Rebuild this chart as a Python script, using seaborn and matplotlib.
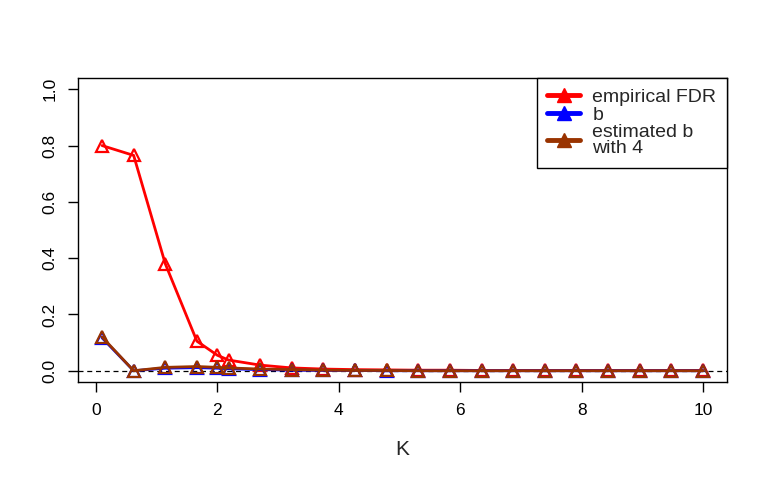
import numpy as np
import matplotlib
matplotlib.use("Agg")
import matplotlib.pyplot as plt
import seaborn as sns
from matplotlib.lines import Line2D

# valores
K = [0.1, 0.621, 1.142, 1.663, 2.0, 2.184, 2.705, 3.226, 3.747, 4.268, 4.789,
     5.311, 5.832, 6.353, 6.874, 7.395, 7.916, 8.437, 8.958, 9.479, 10.0]
fdr_emp = [0.80, 0.765, 0.38, 0.105, 0.055, 0.038, 0.02, 0.01, 0.006, 0.004, 0.003,
           0.002, 0.002, 0.001, 0.001, 0.001, 0.001, 0.001, 0.001, 0.001, 0.001]
b_true = [0.117, 0.0, 0.009, 0.011, 0.009, 0.007, 0.004, 0.002, 0.001, 0.001, 0.0,
          0.0, 0.0, 0.0, 0.0, 0.0, 0.0, 0.0, 0.0, 0.0, 0.0]
b_est = [0.12, 0.0, 0.012, 0.015, 0.012, 0.01, 0.006, 0.004, 0.002, 0.001, 0.001,
         0.0, 0.0, 0.0, 0.0, 0.0, 0.0, 0.0, 0.0, 0.0, 0.0]
legenda = ["empirical FDR", "b", "estimated b\nwith 4"]
cores = ["#ff0000", "#0000ff", "#993300"]

sns.set_style("white")
plt.rcParams["font.family"] = ["Liberation Sans", "DejaVu Sans"]

fig = plt.figure(figsize=(7.68, 4.8), dpi=100)
ax = fig.add_axes([78 / 768, 1 - 382 / 480, (727 - 78) / 768, (382 - 78) / 480])

for serie, cor in zip([fdr_emp, b_true, b_est], cores):
    sns.lineplot(x=K, y=serie, ax=ax, color=cor, lw=2, marker="^", markersize=9,
                 markerfacecolor="none", markeredgecolor=cor, markeredgewidth=1.6)

ax.axhline(0, color="black", lw=0.9, ls=(0, (4, 3)), zorder=0)

ax.set_xlim(-0.296, 10.396)
ax.set_ylim(-0.04, 1.04)
ax.set_xticks([0, 2, 4, 6, 8, 10])
ax.set_yticks([0.0, 0.2, 0.4, 0.6, 0.8, 1.0])
ax.set_yticklabels(["0.0", "0.2", "0.4", "0.6", "0.8", "1.0"], rotation=90, va="center")
ax.tick_params(axis="both", direction="out", length=7, width=1, labelsize=12.5,
               colors="black", bottom=True, left=True)
ax.tick_params(axis="x", pad=8)
ax.tick_params(axis="y", pad=8)
for s in ax.spines.values():
    s.set_color("black")
    s.set_linewidth(1)
ax.set_xlabel("K", fontsize=15, labelpad=16)
ax.set_ylabel("")

handles = [Line2D([0], [0], color=c, lw=3.5, marker="^", markersize=10,
                  markerfacecolor=c, markeredgecolor=c) for c in cores]
leg = ax.legend(handles, legenda, loc="upper right", borderaxespad=0, frameon=True,
                fancybox=False, edgecolor="black", framealpha=1, handlelength=1.7,
                handletextpad=0.62, labelspacing=0.0, borderpad=0.55,
                prop={"size": 14})
leg.get_frame().set_linewidth(1)
for t in leg.get_texts():
    t.set_linespacing(0.92)

fig.savefig("out.png", dpi=100)
